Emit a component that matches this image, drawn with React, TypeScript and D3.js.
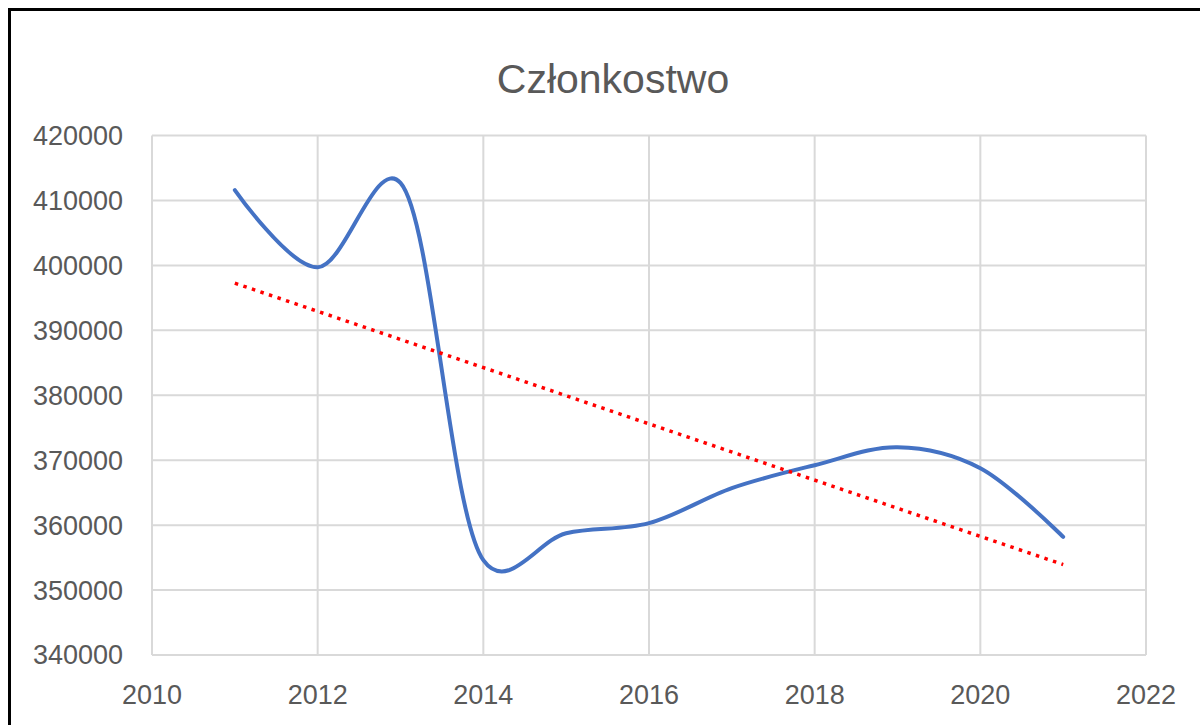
import React from "react";
import * as d3 from "d3";

const years = [2011, 2012, 2013, 2014, 2015, 2016, 2017, 2018, 2019, 2020, 2021];
const members = [411600, 399700, 412700, 354600, 358750, 360300, 365700, 369230, 372000, 368770, 358200];
const xTicks = [2010, 2012, 2014, 2016, 2018, 2020, 2022];
const yTicks = [340000, 350000, 360000, 370000, 380000, 390000, 400000, 410000, 420000];
const title = "Członkostwo";

const W = 1200;
const H = 725;
const L = 152, R = 1146, T = 135.5, B = 655;

export default function App() {
  const x = d3.scaleLinear().domain([2010, 2022]).range([L, R]);
  const y = d3.scaleLinear().domain([340000, 420000]).range([B, T]);

  const pts: [number, number][] = years.map((yr, i) => [yr, members[i]]);
  const line = d3
    .line<[number, number]>()
    .x((d) => x(d[0]))
    .y((d) => y(d[1]))
    .curve(d3.curveCatmullRom.alpha(0.2));

  // linear trend (least squares)
  const mx = d3.mean(years)!;
  const my = d3.mean(members)!;
  const sxy = d3.sum(years.map((yr, i) => (yr - mx) * (members[i] - my)));
  const sxx = d3.sum(years.map((yr) => (yr - mx) ** 2));
  const slope = sxy / sxx;
  const trend: [number, number][] = [years[0], years[years.length - 1]].map((yr) => [yr, my + slope * (yr - mx)]);
  const trendLine = d3
    .line<[number, number]>()
    .x((d) => x(d[0]))
    .y((d) => y(d[1]));

  const font = "'Liberation Sans', Arial, sans-serif";
  const grid = "#D9D9D9";

  return (
    <svg width={W} height={H} style={{ position: "absolute", left: 0, top: 0, background: "#fff" }}>
      <rect x={0} y={0} width={W} height={H} fill="#fff" />
      <rect x={9.5} y={9.5} width={W + 20} height={H + 20} fill="none" stroke="#000" strokeWidth={3} />
      <text x={613} y={93} textAnchor="middle" fontFamily={font} fontSize={41} fill="#595959">
        {title}
      </text>
      {yTicks.map((t) => (
        <line key={"gy" + t} x1={L} x2={R} y1={y(t)} y2={y(t)} stroke={grid} strokeWidth={2} />
      ))}
      {xTicks.map((t) => (
        <line key={"gx" + t} x1={x(t)} x2={x(t)} y1={T} y2={B} stroke={grid} strokeWidth={2} />
      ))}
      {yTicks.map((t) => (
        <text key={"ty" + t} x={123} y={y(t)} dy="0.35em" textAnchor="end" fontFamily={font} fontSize={27} fill="#595959">
          {t}
        </text>
      ))}
      {xTicks.map((t) => (
        <text key={"tx" + t} x={x(t)} y={704} textAnchor="middle" fontFamily={font} fontSize={27} fill="#595959">
          {t}
        </text>
      ))}
      <path d={line(pts) || ""} fill="none" stroke="#4472C4" strokeWidth={4} strokeLinecap="round" />
      <path d={trendLine(trend) || ""} fill="none" stroke="#FF0000" strokeWidth={3.5} strokeDasharray="3.5 5.5" />
    </svg>
  );
}
